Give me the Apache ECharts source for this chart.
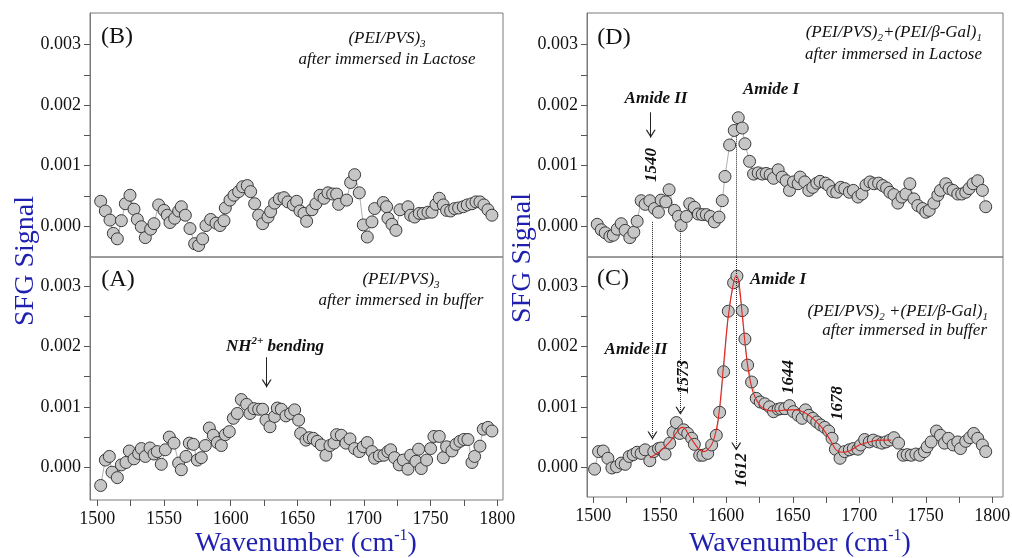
<!DOCTYPE html>
<html><head><meta charset="utf-8">
<script src="https://cdn.jsdelivr.net/npm/echarts@6/dist/echarts.min.js"></script>
<style>html,body{margin:0;padding:0;background:#fff}#c{width:1012px;height:558px}</style>
</head><body><div id="c"></div>
<script>
// Panel B: (PEI/PVS)3 after Lactose  [wavenumber, SFG]
const panelB = [[1502.5,0.00041],[1506,0.00025],[1509.5,0.00010],[1512,-0.00012],[1515,-0.00021],[1518,0.00009],[1521,0.00037],[1524.5,0.00051],[1527.5,0.00028],[1530,0.00011],[1533,-0.00001],[1536,-0.00019],[1540,-0.00005],[1542.5,0.00004],[1546,0.00035],[1550,0.00026],[1552.5,0.00018],[1554.5,0.00006],[1558,0.00013],[1561,0.00025],[1563,0.00032],[1566,0.00018],[1569.5,-0.00004],[1573,-0.00029],[1576,-0.00032],[1579,-0.00021],[1581.5,0.00001],[1585,0.00011],[1589,0.00005],[1592,0.00001],[1595,0.00009],[1596,0.00030],[1599.5,0.00043],[1602.5,0.00051],[1606,0.00057],[1609,0.00065],[1612.5,0.00067],[1615,0.00057],[1618,0.00037],[1621,0.00018],[1624,0.00004],[1628,0.00015],[1630,0.00024],[1633,0.00038],[1636.5,0.00045],[1640,0.00047],[1643,0.00040],[1647,0.00035],[1649.5,0.00041],[1652,0.00025],[1655,0.00021],[1657,0.00008],[1661,0.00027],[1664,0.00037],[1667,0.00051],[1670,0.00046],[1673,0.00055],[1676.5,0.00053],[1679.5,0.00053],[1681,0.00036],[1687,0.00043],[1690,0.00072],[1693,0.00085],[1696.5,0.00055],[1699.5,0.00002],[1702.5,-0.00018],[1706,0.00007],[1708,0.00029],[1714.5,0.00039],[1717,0.00032],[1718,0.00013],[1721,0.00003],[1724,-0.00007],[1727,0.00027],[1733,0.00032],[1735,0.00018],[1738,0.00015],[1741.5,0.00021],[1744.5,0.00021],[1748,0.00023],[1751,0.00023],[1754,0.00036],[1756.5,0.00046],[1759.5,0.00035],[1762,0.00026],[1765,0.00025],[1768,0.00029],[1771,0.00030],[1774.5,0.00032],[1777.5,0.00035],[1781,0.00037],[1784,0.00040],[1787,0.00040],[1790,0.00035],[1793,0.00027],[1796,0.00018]];
// Panel A: (PEI/PVS)3 after buffer
const panelA = [[1502.5,-0.00030],[1506,0.00012],[1509,0.00018],[1511,-0.00008],[1515,-0.00017],[1518,0.00004],[1521.5,0.00008],[1524,0.00027],[1527.5,0.00014],[1531,0.00023],[1533,0.00031],[1536,0.00018],[1539.5,0.00032],[1542.5,0.00022],[1545,0.00026],[1548,0.00005],[1551,0.00029],[1554,0.00050],[1557.5,0.00040],[1561,0.00007],[1563,-0.00004],[1566.5,0.00018],[1569,0.00040],[1572,0.00038],[1575,0.00012],[1578,0.00016],[1581,0.00036],[1584,0.00065],[1587,0.00053],[1590,0.00041],[1593,0.00036],[1596,0.00054],[1599,0.00059],[1602,0.00081],[1605,0.00089],[1608,0.00112],[1612,0.00104],[1614.5,0.00089],[1617.5,0.00097],[1621,0.00096],[1624,0.00096],[1626.5,0.00078],[1629.5,0.00067],[1633,0.00084],[1635,0.00098],[1638,0.00096],[1641.5,0.00085],[1645,0.00089],[1648,0.00095],[1651,0.00078],[1652.5,0.00056],[1656.5,0.00045],[1659,0.00049],[1662,0.00048],[1665,0.00043],[1668,0.00037],[1671.5,0.00020],[1674.5,0.00036],[1677.5,0.00040],[1679.5,0.00054],[1683,0.00053],[1686.5,0.00040],[1689.5,0.00047],[1693,0.00031],[1696.5,0.00026],[1699.5,0.00034],[1702.5,0.00041],[1706,0.00026],[1708,0.00015],[1711.5,0.00019],[1715,0.00020],[1718,0.00026],[1720,0.00029],[1723,0.00016],[1726.5,0.00004],[1729.5,0.00012],[1733,-0.00003],[1735,0.00020],[1739,0.00010],[1741,0.00030],[1743,-0.00002],[1747,0.00012],[1750,0.00031],[1752.5,0.00051],[1756.5,0.00051],[1759.5,0.00016],[1762,0.00034],[1766,0.00027],[1769,0.00038],[1772,0.00043],[1775,0.00046],[1778,0.00046],[1781,0.00008],[1783,0.00018],[1787,0.00035],[1789.5,0.00063],[1793,0.00066],[1796,0.00060]];
// Panel D: (PEI/PVS)2+(PEI/b-Gal)1 after Lactose
const panelD = [[1503,0.00003],[1506,-0.00006],[1509,-0.00011],[1512.5,-0.00017],[1515,-0.00015],[1518,-0.00005],[1521,0.00004],[1524,-0.00007],[1527.5,-0.00019],[1530.5,-0.00010],[1533,0.00008],[1536,0.00042],[1539,0.00036],[1542.5,0.00042],[1546,0.00029],[1549,0.00023],[1551,0.00043],[1554.5,0.00040],[1557,0.00060],[1561,0.00026],[1564,0.00016],[1566,0.00001],[1570,0.00016],[1572.5,0.00037],[1576,0.00031],[1579,0.00020],[1582,0.00019],[1585,0.00019],[1588,0.00016],[1591,0.00007],[1594.5,0.00015],[1597,0.00042],[1599,0.00082],[1602.5,0.00134],[1606,0.00158],[1609,0.00179],[1612,0.00162],[1614,0.00136],[1617.5,0.00107],[1620.5,0.00086],[1624,0.00088],[1627,0.00086],[1630,0.00087],[1633,0.00085],[1635.5,0.00079],[1639,0.00093],[1642,0.00081],[1645,0.00075],[1647.5,0.00059],[1650.5,0.00073],[1654,0.00070],[1655.5,0.00081],[1659,0.00073],[1662,0.00059],[1665,0.00064],[1668,0.00071],[1670.5,0.00074],[1674.5,0.00071],[1677,0.00067],[1680,0.00057],[1683,0.00056],[1686,0.00064],[1689,0.00062],[1692.5,0.00056],[1695.5,0.00059],[1699,0.00048],[1702,0.00053],[1705,0.00068],[1708,0.00073],[1711,0.00070],[1714.5,0.00071],[1717.5,0.00067],[1720.5,0.00063],[1723,0.00056],[1726,0.00052],[1729,0.00038],[1732,0.00048],[1735,0.00053],[1738,0.00070],[1741,0.00045],[1744,0.00034],[1747.5,0.00029],[1750,0.00023],[1752.5,0.00026],[1756,0.00038],[1759,0.00051],[1761,0.00059],[1765,0.00070],[1767.5,0.00062],[1770.5,0.00059],[1774,0.00053],[1777,0.00053],[1780,0.00056],[1782.5,0.00062],[1785.5,0.00070],[1789,0.00075],[1792.5,0.00059],[1795,0.00032]];
// Panel C: (PEI/PVS)2+(PEI/b-Gal)1 after buffer
const panelC = [[1501,-0.00003],[1504,0.00026],[1507.5,0.00027],[1511,0.00015],[1514,-0.00001],[1517.5,0.00001],[1521,0.00007],[1524,0.00005],[1527,0.00018],[1530,0.00021],[1533,0.00025],[1536,0.00023],[1539,0.00029],[1542.5,0.00011],[1545.5,0.00026],[1549,0.00031],[1551,0.00032],[1554,0.00022],[1557.5,0.00040],[1560,0.00058],[1562.5,0.00074],[1565,0.00056],[1568,0.00062],[1571,0.00056],[1574,0.00048],[1576,0.00038],[1580,0.00020],[1582.5,0.00020],[1586,0.00023],[1589,0.00037],[1592.5,0.00053],[1595,0.00091],[1598,0.00158],[1601.5,0.00258],[1605.5,0.00305],[1608,0.00316],[1612,0.00259],[1614,0.00212],[1616,0.00169],[1619,0.00141],[1622.5,0.00114],[1625.5,0.00108],[1629,0.00105],[1632.5,0.00100],[1635.5,0.00092],[1639,0.00096],[1641,0.00097],[1644,0.00097],[1647.5,0.00102],[1650.5,0.00092],[1654,0.00086],[1657,0.00081],[1659.5,0.00095],[1662,0.00086],[1665,0.00081],[1668,0.00075],[1671,0.00070],[1674,0.00066],[1677,0.00060],[1679.5,0.00048],[1682,0.00030],[1685.5,0.00015],[1689,0.00026],[1692.5,0.00029],[1695.5,0.00031],[1699,0.00030],[1701,0.00037],[1704,0.00046],[1707.5,0.00042],[1710.5,0.00045],[1714,0.00042],[1717,0.00040],[1720,0.00042],[1723,0.00045],[1726,0.00049],[1729.5,0.00040],[1733,0.00020],[1736,0.00021],[1739,0.00020],[1742.5,0.00022],[1745.5,0.00020],[1749,0.00026],[1751,0.00034],[1754,0.00042],[1758,0.00060],[1761,0.00053],[1764,0.00040],[1767,0.00048],[1770.5,0.00037],[1774,0.00042],[1776,0.00031],[1780,0.00043],[1783,0.00049],[1786,0.00056],[1789,0.00048],[1792.5,0.00037],[1795,0.00026]];
// Fit curve (red) in panel C
const fitC = [[1542.5,0.00016],[1550,0.00026],[1557.5,0.00042],[1565,0.00064],[1567.5,0.00066],[1572.5,0.00051],[1579,0.00031],[1582.5,0.00026],[1586,0.00029],[1590,0.00042],[1594,0.00081],[1597.5,0.00158],[1601,0.00240],[1605,0.00300],[1607.5,0.00317],[1609.5,0.00306],[1612.5,0.00240],[1616,0.00169],[1620,0.00125],[1625,0.00103],[1630,0.00095],[1637.5,0.00093],[1645,0.00095],[1652.5,0.00095],[1660,0.00089],[1665,0.00081],[1672.5,0.00064],[1679,0.00042],[1682.5,0.00029],[1687.5,0.00025],[1692.5,0.00027],[1700,0.00037],[1707.5,0.00042],[1715,0.00045],[1724,0.00045]];

const xMajorTicks = [1500,1550,1600,1650,1700,1750,1800];
const xAllTicks = [1500,1525,1550,1575,1600,1625,1650,1675,1700,1725,1750,1775,1800];
const yMajorTicks = [0,0.001,0.002,0.003];
const yAllTicks = [0,0.0005,0.001,0.0015,0.002,0.0025,0.003];

const serif = '"Liberation Serif", "DejaVu Serif", serif';
const BLUE = '#1f1fb0';
const chev = 'path://M0,10 L5,0 L10,10 L8.6,10 L5,2.8 L1.4,10 Z';

const chart = echarts.init(document.getElementById('c'), null, {renderer:'canvas'});

const grids = [
  {left:90, top:13, width:413, height:244},
  {left:90, top:257, width:413, height:243},
  {left:587, top:13, width:416, height:244},
  {left:587, top:257, width:416, height:240}
].map(g => Object.assign(g, {show:true, borderColor:'#7a7a7a', borderWidth:1, backgroundColor:'transparent', containLabel:false, outerBoundsMode:'none'}));

const xRanges = [[1494.5,1804.3],[1494.5,1804.3],[1495.3,1808],[1495.3,1808]];
const yRanges = [[-0.00051,0.00352],[-0.00054,0.003476],[-0.00051,0.00352],[-0.00049,0.003476]];

const xAxis = xRanges.map((r,i) => ({
  type:'value', gridIndex:i, min:r[0], max:r[1], splitLine:{show:false},
  axisLine:{show:false, onZero:false},
  axisTick:{show: i%2===1, length:6, inside:false, customValues:xAllTicks, lineStyle:{color:'#555', width:1}},
  axisLabel:{show: i%2===1, customValues:xMajorTicks, margin:10, color:'#111', fontFamily:serif, fontSize:18, formatter: v => String(v)}
}));
const yAxis = yRanges.map((r,i) => ({
  type:'value', gridIndex:i, min:r[0], max:r[1], splitLine:{show:false},
  axisLine:{show:true, onZero:false, lineStyle:{color:'#7a7a7a'}},
  axisTick:{show:true, length:6, inside:false, customValues:yAllTicks, lineStyle:{color:'#555', width:1}},
  axisLabel:{show:true, customValues:yMajorTicks, margin:9, color:'#111', fontFamily:serif, fontSize:18, formatter: v => v.toFixed(3)}
}));

function dataSeries(data, k, extra) {
  return Object.assign({
    type:'line', xAxisIndex:k, yAxisIndex:k, data: data,
    symbol:'circle', symbolSize:12, showSymbol:true, clip:false,
    lineStyle:{color:'#9a9a9a', width:0.8},
    itemStyle:{color:'#c6c6c6', borderColor:'#3a3a3a', borderWidth:1},
    silent:true, animation:false, z:3
  }, extra || {});
}
function ml(items) {
  return {silent:true, symbol:['none','none'], label:{show:false}, animation:false,
    lineStyle:{color:'#333', width:1, type:'dotted'}, emphasis:{disabled:true}, data: items};
}
function seg(x1,y1,x2,y2,type,arrow) {
  return [{coord:[x1,y1], symbol:'none', lineStyle:{type:type, color:'#222', width:1}},
          {coord:[x2,y2], symbol: arrow ? chev : 'none', symbolSize:[10,8], symbolOffset:[0,4]}];
}

const series = [
  dataSeries(panelB, 0),
  dataSeries(panelA, 1, {markLine: ml([seg(1627,0.00182,1627,0.00132,'solid',true)])}),
  dataSeries(panelD, 2, {markLine: ml([
    seg(1543.2,0.00188,1543.2,0.00146,'solid',true),
    seg(1544.5,0.00007,1544.5,-0.00051,'dotted',false),
    seg(1565.5,-0.00005,1565.5,-0.00051,'dotted',false),
    seg(1607.5,0.00150,1607.5,-0.00051,'dotted',false)
  ])}),
  dataSeries(panelC, 3, {markLine: ml([
    seg(1544.5,0.003476,1544.5,0.00046,'dotted',true),
    seg(1565.5,0.003476,1565.5,0.00087,'dotted',true),
    seg(1607.5,0.003476,1607.5,0.00028,'dotted',true)
  ])}),
  {type:'line', xAxisIndex:3, yAxisIndex:3, data: fitC, smooth:0.35, symbol:'none',
   lineStyle:{color:'#e3261f', width:1.1}, silent:true, animation:false, z:6}
];

function T(x, y, text, rich, extra, align) {
  return Object.assign({type:'text', x:x, y:y, z:100, silent:true,
    style:{text:text, align:align || 'center', verticalAlign:'middle', fill:'#111', rich:rich, font:'17px ' + serif}}, extra || {});
}
const itRich = {
  i:{fontFamily:serif, fontStyle:'italic', fontSize:17, lineHeight:22, fill:'#111'},
  s:{fontFamily:serif, fontStyle:'italic', fontSize:11, lineHeight:11, verticalAlign:'bottom', fill:'#111'}
};
const bdRich = {
  b:{fontFamily:serif, fontStyle:'italic', fontWeight:'bold', fontSize:17, lineHeight:22, fill:'#111'},
  p:{fontFamily:serif, fontStyle:'italic', fontWeight:'bold', fontSize:11, lineHeight:11, verticalAlign:'top', fill:'#111'}
};
const panRich = {l:{fontFamily:serif, fontSize:24, fill:'#111'}};
const titRich = {
  a:{fontFamily:serif, fontSize:28, lineHeight:32, fill:BLUE},
  s:{fontFamily:serif, fontSize:16, lineHeight:16, verticalAlign:'top', fill:BLUE}
};
const rot = Math.PI/2;

const graphic = [
  T(117,37,'{l|(B)}',panRich), T(118,280,'{l|(A)}',panRich),
  T(614,38,'{l|(D)}',panRich), T(613,279,'{l|(C)}',panRich),
  T(387,39,'{i|(PEI/PVS)}{s|3}',itRich), T(387,60,'{i|after immersed in Lactose}',itRich),
  T(401,280,'{i|(PEI/PVS)}{s|3}',itRich), T(401,301,'{i|after immersed in buffer}',itRich),
  T(982,33,'{i|(PEI/PVS)}{s|2}{i|+(PEI/β-Gal)}{s|1}',itRich,null,'right'),
  T(982,55,'{i|after immersed in Lactose}',itRich,null,'right'),
  T(988,312,'{i|(PEI/PVS)}{s|2}{i| +(PEI/β-Gal)}{s|1}',itRich,null,'right'),
  T(987,331,'{i|after immersed in buffer}',itRich,null,'right'),
  T(275,347,'{b|NH}{p|2+}{b| bending}',bdRich),
  T(656,99,'{b|Amide II}',bdRich), T(771,90,'{b|Amide I}',bdRich),
  T(778,280,'{b|Amide I}',bdRich), T(636,350,'{b|Amide II}',bdRich),
  T(652,165,'{b|1540}',bdRich,{rotation:rot}),
  T(684,377,'{b|1573}',bdRich,{rotation:rot}),
  T(742,470,'{b|1612}',bdRich,{rotation:rot}),
  T(789,377,'{b|1644}',bdRich,{rotation:rot}),
  T(838,403,'{b|1678}',bdRich,{rotation:rot}),
  T(306,544,'{a|Wavenumber (cm}{s|-1}{a|)}',titRich),
  T(800,544,'{a|Wavenumber (cm}{s|-1}{a|)}',titRich),
  T(26,261,'{a|SFG Signal}',titRich,{rotation:rot}),
  T(523,258,'{a|SFG Signal}',titRich,{rotation:rot})
];

chart.setOption({
  animation:false,
  backgroundColor:'#fff',
  grid: grids, xAxis: xAxis, yAxis: yAxis, series: series, graphic: graphic
});
</script></body></html>
